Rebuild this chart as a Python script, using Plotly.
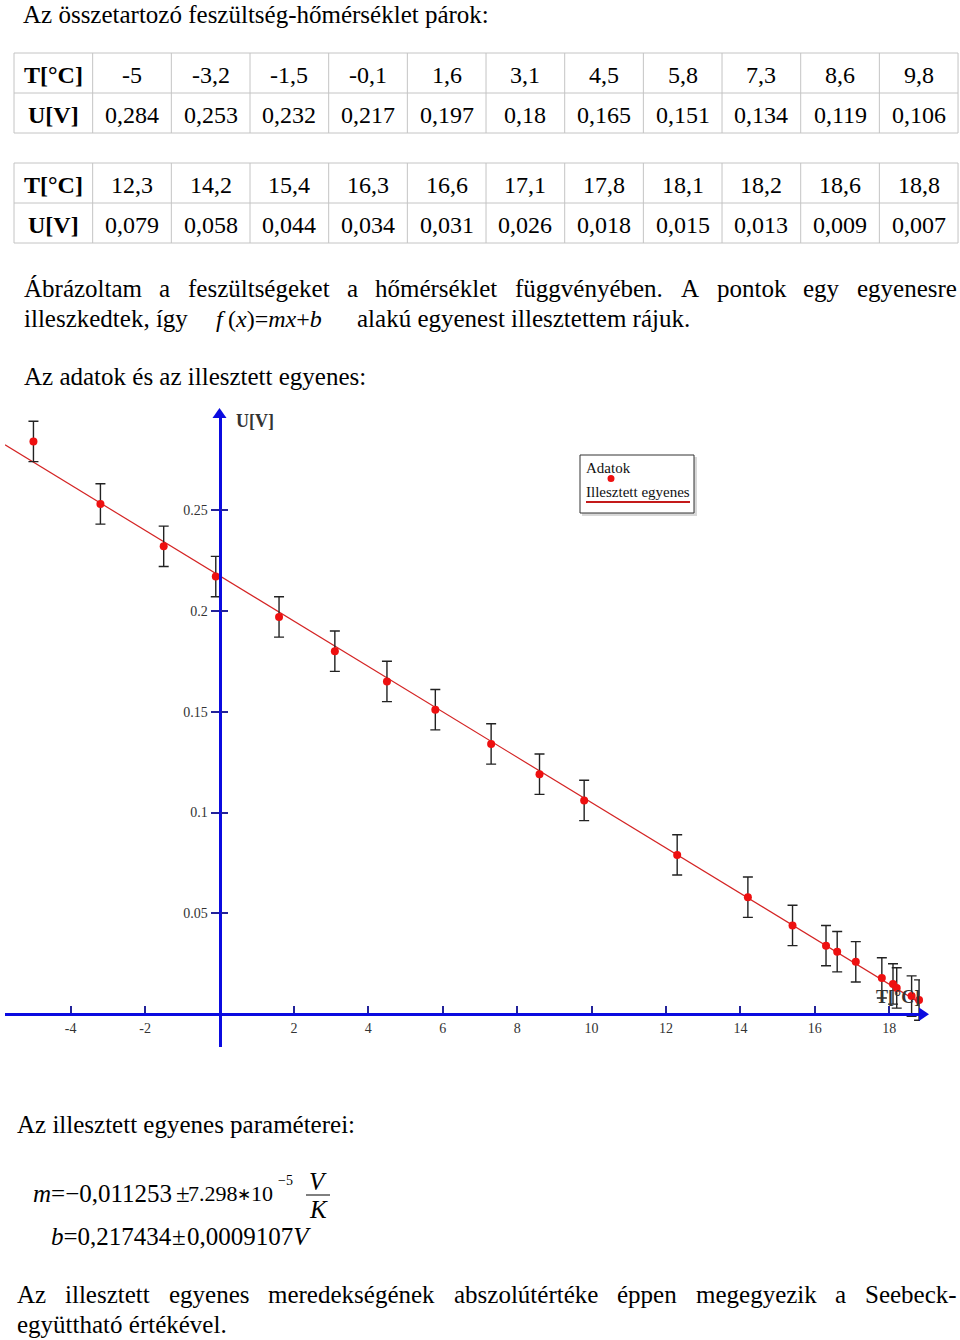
import plotly.graph_objects as go

# ---------------- data ----------------
T_row1 = [-5, -3.2, -1.5, -0.1, 1.6, 3.1, 4.5, 5.8, 7.3, 8.6, 9.8]
U_row1 = [0.284, 0.253, 0.232, 0.217, 0.197, 0.18, 0.165, 0.151, 0.134, 0.119, 0.106]
T_row2 = [12.3, 14.2, 15.4, 16.3, 16.6, 17.1, 17.8, 18.1, 18.2, 18.6, 18.8]
U_row2 = [0.079, 0.058, 0.044, 0.034, 0.031, 0.026, 0.018, 0.015, 0.013, 0.009, 0.007]
U_error = 0.01
fit_m = -0.011253
fit_b = 0.217434
x_tickvals = [-4, -2, 2, 4, 6, 8, 10, 12, 14, 16, 18]
x_ticktext = ["-4", "-2", "2", "4", "6", "8", "10", "12", "14", "16", "18"]
y_tickvals = [0.05, 0.1, 0.15, 0.2, 0.25]
y_ticktext = ["0.05", "0.1", "0.15", "0.2", "0.25"]

# ---------------- layout helpers ----------------
W, H = 960, 1340
SERIF = "Liberation Serif"
BLUE = "#0b0be0"
TICKBLUE = "#23239a"


def px(x):
    return x / W


def py(y):
    return 1 - y / H


fig = go.Figure()


def txt(s, x, y, size=25, anchor="left", color="black", pad=1):
    fig.add_annotation(text=s, x=px(x), y=py(y), xref="paper", yref="paper",
                       xanchor=anchor, yanchor="middle", showarrow=False,
                       borderpad=pad,
                       font=dict(family=SERIF, size=size, color=color))


def hline(x0, x1, y, color, width=1):
    fig.add_shape(type="line", xref="paper", yref="paper", x0=px(x0), x1=px(x1),
                  y0=py(y), y1=py(y), line=dict(color=color, width=width))


def vline(x, y0, y1, color, width=1):
    fig.add_shape(type="line", xref="paper", yref="paper", x0=px(x), x1=px(x),
                  y0=py(y0), y1=py(y1), line=dict(color=color, width=width))


def triangle(pts, color):
    path = "M " + " L ".join(f"{px(a)},{py(b)}" for a, b in pts) + " Z"
    fig.add_shape(type="path", xref="paper", yref="paper", path=path,
                  fillcolor=color, line=dict(width=0))


def fmt(v):
    return f"{v:g}".replace(".", ",")


# ---------------- top text ----------------
txt("Az összetartozó feszültség-hőmérséklet párok:", 22, 14.5, pad=0)

# ---------------- tables ----------------
TAB_X0, COLW = 14, 78.67
GRID = "#c4c4c4"
for top, Ts, Us in [(53, T_row1, U_row1), (163, T_row2, U_row2)]:
    rowh = 40
    for k in range(3):
        hline(TAB_X0, TAB_X0 + 12 * COLW, top + k * rowh, GRID)
    for c in range(13):
        vline(TAB_X0 + c * COLW, top, top + 2 * rowh, GRID)
    txt("<b>T[°C]</b>", TAB_X0 + COLW / 2, top + 21.5, 24, "center")
    txt("<b>U[V]</b>", TAB_X0 + COLW / 2, top + 61.5, 24, "center")
    for i, (t, u) in enumerate(zip(Ts, Us)):
        cx = TAB_X0 + COLW * (i + 1.5)
        txt(fmt(t), cx, top + 21.5, 24, "center")
        txt(fmt(u), cx, top + 61.5, 24, "center")

# ---------------- paragraph ----------------
line1 = [("Ábrázoltam", 22), ("a", 157.4), ("feszültségeket", 185.9), ("a", 344.9),
         ("hőmérséklet", 373.3), ("függvényében.", 512.7), ("A", 679.1),
         ("pontok", 714.5), ("egy", 801.4), ("egyenesre", 854.9)]
for w, x in line1:
    txt(w, x, 288.5)
txt("illeszkedtek, így", 22, 318.5)
txt("<i>f</i>", 214, 318.5, 24)
txt("(<i>x</i>)=<i>mx</i>+<i>b</i>", 226, 318.5, 24)
txt("alakú egyenest illesztettem rájuk.", 355, 318.5)
txt("Az adatok és az illesztett egyenes:", 22, 376.5)

# ---------------- chart ----------------
X0PX, SX = 219.5, 37.21      # pixel of T=0, px per unit
Y0PX, SY = 1014.2, 2016.7    # pixel of U=0, px per unit
XD = (5, 920)
YD = (1047, 417)
xrange_ = [(XD[0] - X0PX) / SX, (XD[1] - X0PX) / SX]
yrange_ = [(Y0PX - YD[0]) / SY, (Y0PX - YD[1]) / SY]

T_all = T_row1 + T_row2
U_all = U_row1 + U_row2

x_fit = [xrange_[0], xrange_[1] + 6 / SX]
y_fit = [fit_m * x + fit_b for x in x_fit]
fig.add_trace(go.Scatter(x=x_fit, y=y_fit, mode="lines",
                         line=dict(color="#d42424", width=1.2),
                         hoverinfo="skip", showlegend=False, cliponaxis=False))
fig.add_trace(go.Scatter(x=T_all, y=U_all, mode="markers",
                         marker=dict(color="#ee1010", size=8),
                         error_y=dict(type="constant", value=U_error, color="#222222",
                                      thickness=1.4, width=5),
                         cliponaxis=False, showlegend=False, hoverinfo="skip"))
# invisible trace so the mirrored tick axis (y2) is drawn
fig.add_trace(go.Scatter(x=[None], y=[None], yaxis="y2", mode="markers",
                         showlegend=False, hoverinfo="skip"))

# axis arrow heads (paper-positioned decorations)
triangle([(212.5, 418), (226.5, 418), (219.5, 408)], BLUE)
triangle([(919, 1007.5), (919, 1021), (929, 1014.2)], BLUE)

tickfont = dict(family=SERIF, size=14, color="#333333")
fig.update_layout(
    xaxis=dict(domain=[px(XD[0]), px(XD[1])], range=xrange_, anchor="free",
               position=py(Y0PX), showline=True, linecolor=BLUE, linewidth=3,
               ticks="inside", ticklen=7, tickwidth=1.5, tickcolor=TICKBLUE,
               tickvals=x_tickvals, ticktext=x_ticktext, tickfont=tickfont,
               showgrid=False, zeroline=False, fixedrange=True),
    yaxis=dict(domain=[py(YD[0]), py(YD[1])], range=yrange_, anchor="free",
               position=px(X0PX), side="left", showline=True, linecolor=BLUE,
               linewidth=3, ticks="outside", ticklen=8, tickwidth=1.5,
               tickcolor=TICKBLUE, tickvals=y_tickvals, ticktext=y_ticktext,
               tickfont=tickfont, showgrid=False, zeroline=False, fixedrange=True),
    yaxis2=dict(overlaying="y", range=yrange_, anchor="free", position=px(X0PX),
                side="right", showline=False, ticks="outside", ticklen=7,
                tickwidth=1.5, tickcolor=TICKBLUE, tickvals=y_tickvals,
                showticklabels=False, showgrid=False, zeroline=False, fixedrange=True),
)

txt("<b>U[V]</b>", 234, 421, 18, "left", "#333333")
txt("<b>T[°C]</b>", 874, 997, 18, "left", "#333333")

# legend box
fig.add_shape(type="rect", xref="paper", yref="paper", x0=px(582), x1=px(697),
              y0=py(516), y1=py(457), line=dict(width=0), fillcolor="#d8d8d8")
fig.add_shape(type="rect", xref="paper", yref="paper", x0=px(580), x1=px(694),
              y0=py(513), y1=py(455), line=dict(color="#333333", width=1),
              fillcolor="white")
txt("Adatok", 584, 468, 15, "left", "#111111")
fig.add_shape(type="circle", xref="paper", yref="paper", x0=px(607.5), x1=px(614.5),
              y0=py(482), y1=py(475), line=dict(width=0), fillcolor="#ee1010")
txt("Illesztett egyenes", 584, 492, 15, "left", "#111111")
hline(586, 690, 502, "#c41a1a", 2)

# ---------------- bottom text ----------------
txt("Az illesztett egyenes paraméterei:", 15, 1124.5)
txt("<i>m</i>=−0,011253", 31, 1193.5)
txt("±", 174, 1193.5)
txt("7.298", 186, 1193.5, 22)
txt("∗", 235, 1194, 17)
txt("10", 249, 1193.5, 22)
txt("−5", 276, 1180, 14)
txt("<i>V</i>", 318, 1181, 25, "center")
hline(306, 330, 1195, "black", 1)
txt("<i>K</i>", 318, 1209, 25, "center")
txt("<i>b</i>=0,217434", 49, 1236.5)
txt("±", 170, 1236.5)
txt("0,0009107<i>V</i>", 185, 1236.5)

line3 = [("Az", 15), ("illesztett", 63.1), ("egyenes", 166.7), ("meredekségének", 266.1),
         ("abszolútértéke", 451.6), ("éppen", 614.9), ("megegyezik", 693.5),
         ("a", 833.2), ("Seebeck-", 863.2)]
for w, x in line3:
    txt(w, x, 1294.5)
txt("együttható értékével.", 15, 1324.5)

fig.update_layout(width=W, height=H, margin=dict(l=0, r=0, t=0, b=0),
                  paper_bgcolor="white", plot_bgcolor="white", showlegend=False)

fig.write_html("out.html")
